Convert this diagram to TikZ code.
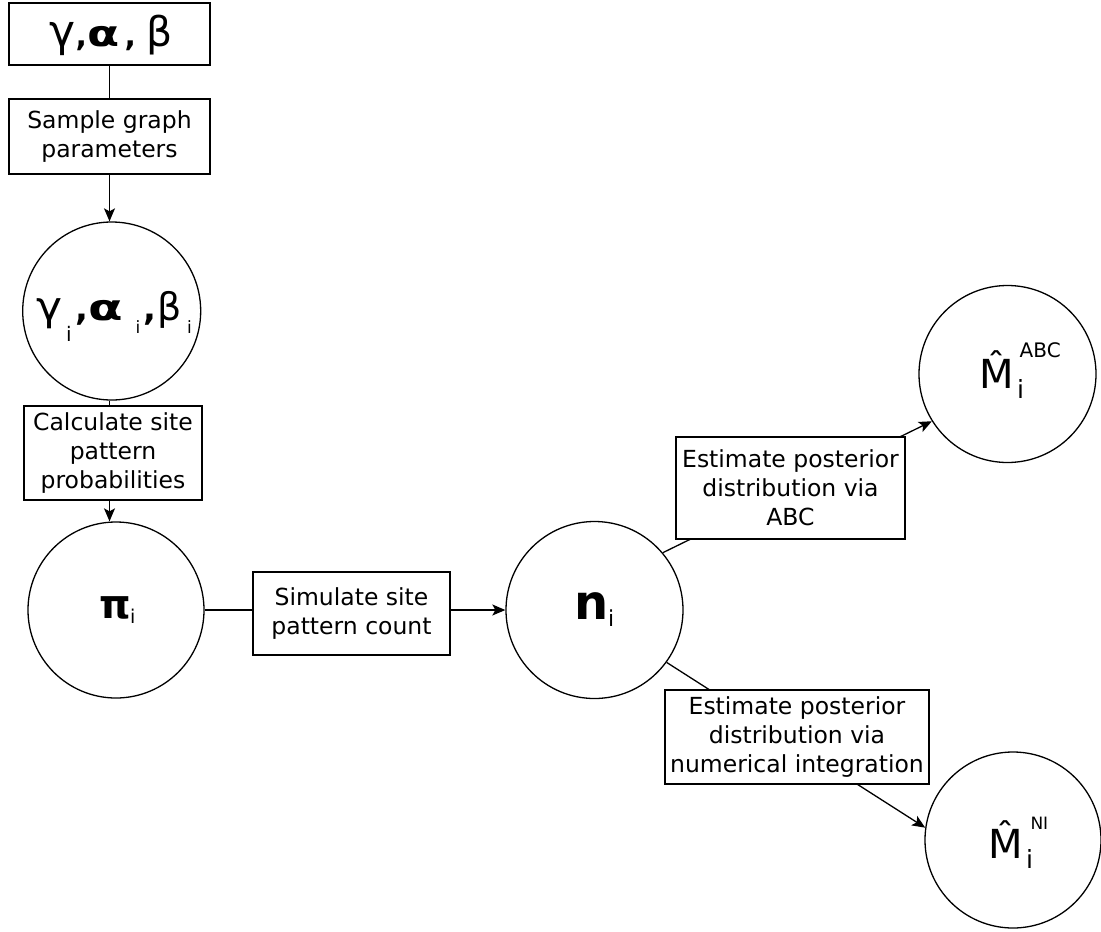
\documentclass[tikz,border=0pt]{standalone}
\usepackage{fontspec}
\setmainfont{DejaVu Sans}
\usepackage{graphicx}
\usetikzlibrary{arrows.meta,backgrounds}
\newcommand\fsz[1]{\fontsize{#1}{#1}\selectfont}
\newcommand\at[2]{\rlap{\hspace*{#1pt}#2}}
\newcommand\hatM{{\fsz{40}\^{M}}}
\begin{document}
\begin{tikzpicture}[x=1pt,y=-1pt,
  box/.style={draw, line width=1.3pt, fill=white, align=center, inner sep=0pt,
    font=\fontsize{23.5}{29}\selectfont},
  circ/.style={draw, circle, line width=1.3pt, minimum size=177pt, inner sep=0pt, fill=white},
  lbl/.style={inner sep=0pt, anchor=base west},
  conn/.style={line width=1.3pt},
  arr/.style={conn, -{Stealth[length=13pt,width=11pt,inset=3pt]}}]
\useasboundingbox (0,0) rectangle (1101,932);

% left column
\node[box, minimum width=201pt, minimum height=62pt] (top) at (109.5,34) {};
\node[lbl] (toptxt) at (49,46)
  {\makebox[121pt][l]{\at{0}{\fsz{44}γ}\at{26.5}{\fsz{30}\bfseries ,}\at{38}{\scalebox{1.3}[1]{\fsz{36}\bfseries α}}\at{75.5}{\fsz{30}\bfseries ,}\at{97}{\fsz{41}β}}};
\node[box, minimum width=201pt, minimum height=75pt] (sample) at (109.5,136.5)
  {Sample graph\\parameters};
\node[circ, minimum size=178pt] (g) at (111.7,311) {};
\node[lbl] (gtxt) at (36,320)
  {\makebox[155pt][l]{\at{0}{\scalebox{1.1}[1]{\fsz{40}γ}}\at{30}{\raisebox{-21pt}{\fsz{20}i}}\at{39}{\fsz{34}\bfseries ,}\at{52.2}{\scalebox{1.4}[1]{\fsz{36}\bfseries α}}\at{99.5}{\raisebox{-13pt}{\fsz{17}i}}\at{107.5}{\fsz{34}\bfseries ,}\at{121}{\fsz{38}β}\at{151}{\raisebox{-13pt}{\fsz{17}i}}}};
\node[box, minimum width=178pt, minimum height=94pt] (calc) at (113,453)
  {Calculate site\\pattern\\probabilities};
\node[circ, minimum size=176pt] (pi) at (116,610) {};
\node[lbl] (pitxt) at (98.8,618)
  {\makebox[40pt][l]{\at{0}{\fsz{40}\bfseries π}\at{31}{\raisebox{-5pt}{\fsz{19}i}}}};

% middle
\node[box, minimum width=197pt, minimum height=83pt] (sim) at (351.5,613.5)
  {Simulate site\\pattern count};
\node[circ] (n) at (594.5,610) {};
\node[lbl] (ntxt) at (574,619)
  {\makebox[42pt][l]{\at{0}{\fsz{48}\bfseries n}\at{34}{\raisebox{-7pt}{\fsz{22}i}}}};

% right
\node[circ] (ma) at (1007.5,374) {};
\node[lbl] (matxt) at (979,388)
  {\makebox[85pt][l]{\at{0}{\hatM}\at{37.8}{\raisebox{-10pt}{\fsz{25}i}}\at{40.5}{\raisebox{31pt}{\fsz{20}ABC}}}};
\node[circ, minimum size=176pt] (mn) at (1013,840) {};
\node[lbl] (mntxt) at (988,858)
  {\makebox[65pt][l]{\at{0}{\hatM}\at{37.8}{\raisebox{-10pt}{\fsz{25}i}}\at{42.3}{\raisebox{29pt}{\fsz{17}NI}}}};

\node[box, minimum width=229pt, minimum height=102pt] (abc) at (790.5,488)
  {Estimate posterior\\distribution via\\ABC};
\node[box, minimum width=264pt, minimum height=94pt] (ni) at (797,737)
  {Estimate posterior\\distribution via\\numerical integration};

\begin{scope}[on background layer]
\draw[conn] (top.south) -- (sample.north);
\draw[arr] (sample.south) -- (sample.south |- g.north);
\draw[conn] (g.south -| sample.south) -- (calc.north -| sample.south);
\draw[arr] (calc.south -| sample.south) -- (pi.north -| sample.south);
\draw[conn] (pi.east) -- (pi.east -| sim.west);
\draw[arr] (sim.east |- n.west) -- (n.west);
\draw[arr] (n.40.5) -- (ma.212.8);
\draw[arr] (n.-36.3) -- (mn.172);
\end{scope}
\end{tikzpicture}
\end{document}
